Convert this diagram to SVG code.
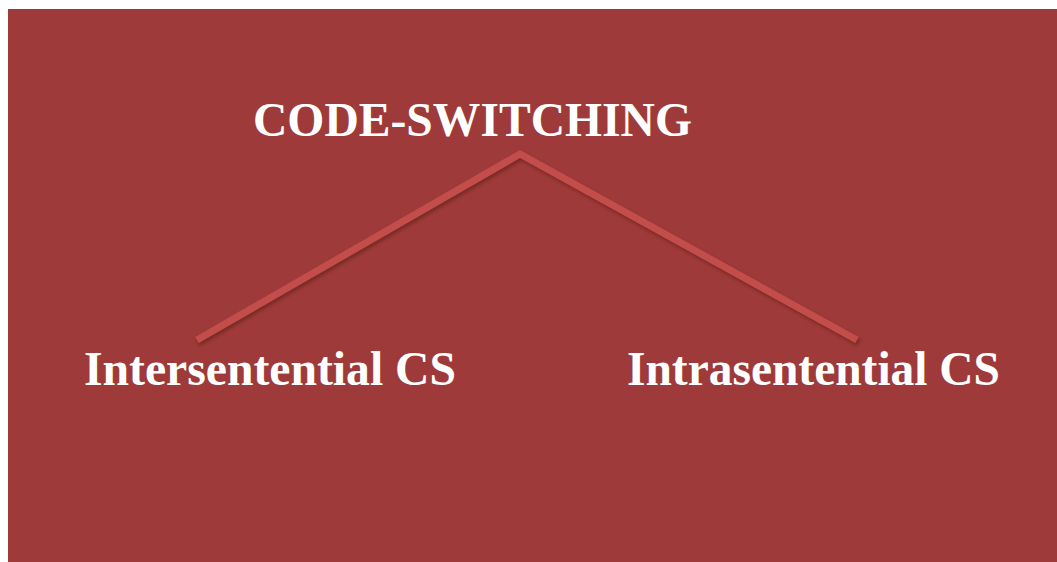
<svg xmlns="http://www.w3.org/2000/svg" width="1057" height="562" viewBox="0 0 1057 562">
  <defs>
    <filter id="shadow" x="-5%" y="-10%" width="110%" height="130%">
      <feDropShadow dx="1.5" dy="2.5" stdDeviation="1.5" flood-color="#5a1a18" flood-opacity="0.6"/>
    </filter>
  </defs>
  <style>
    .label { font-family: "Liberation Serif", "Times New Roman", serif; font-weight: bold; fill: #ffffff; font-size: 48px; }
    .branch { fill: none; stroke: #c24d4b; stroke-width: 7; stroke-linejoin: miter; stroke-linecap: butt; }
  </style>
  <rect x="0" y="0" width="1057" height="562" fill="#ffffff"/>
  <rect x="8" y="9" width="1049" height="553" fill="#9e3a39"/>

  <g id="connectors" filter="url(#shadow)">
    <polyline class="branch" points="197,340 520,154 857,340"/>
  </g>

  <g id="node-root">
    <text class="label" x="253" y="136" textLength="439" lengthAdjust="spacingAndGlyphs">CODE-SWITCHING</text>
  </g>
  <g id="node-intersentential">
    <text class="label" x="84" y="385" textLength="372" lengthAdjust="spacingAndGlyphs">Intersentential CS</text>
  </g>
  <g id="node-intrasentential">
    <text class="label" x="627" y="385" textLength="373" lengthAdjust="spacingAndGlyphs">Intrasentential CS</text>
  </g>
</svg>
